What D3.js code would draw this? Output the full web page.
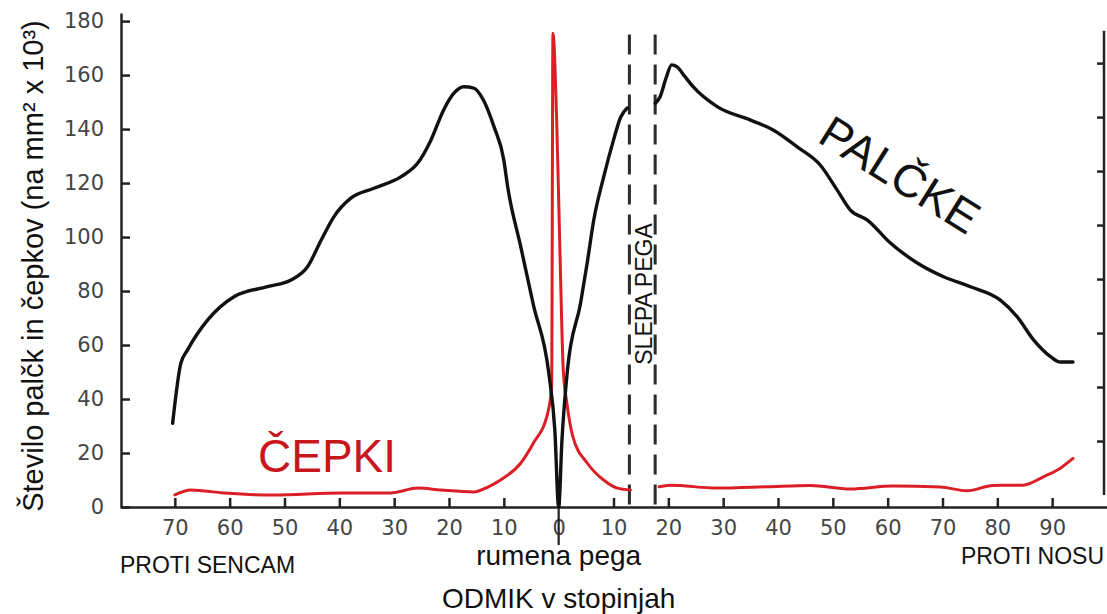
<!DOCTYPE html>
<html>
<head>
<meta charset="utf-8">
<script src="https://cdn.jsdelivr.net/npm/d3@7"></script>
<style>
  body { margin: 0; background: #fff; }
  svg { display: block; }
</style>
</head>
<body>
<div id="chart"></div>
<script>
// degrees off the fovea: temporal side negative, nasal side positive
// rods, temporal edge up to the blind spot
let rodsAX = [-70.4, -68.9, -67.7, -64.0, -59.2, -53.1, -48.8, -45.8, -43.3, -41.0, -37.9, -33.7, -28.8,
  -25.7, -23.3, -21.0, -19.1, -17.3, -15.5, -13.7, -11.8, -10.0, -9.3, -6.9, -4.6, -1.8, -0.7, 0,
  0.6, 1.6, 4.0, 5.2, 6.4, 8.2, 10.0, 11.3, 12.5];
let rodsAY = [31, 53.3, 58.1, 69.3, 77.9, 81.6, 84.1, 89, 98.9, 107.5, 114.4, 118.1, 122.3,
  127.4, 135.9, 147, 153.3, 155.7, 155.2, 150.7, 140.9, 128.5, 118.6, 96.3, 74.8, 49.6, 28.5, 0,
  24.8, 50.7, 75.6, 90.4, 106.3, 122.2, 135.9, 144.4, 147.8];
// rods, after the blind spot
let rodsBX = [17.6, 18.5, 19.6, 20.6, 21.6, 23.0, 24.6, 28.9, 35.0, 39.2, 43.5, 47.7, 50.8, 53.2,
  56.3, 60.5, 65.4, 70.2, 75.1, 80.5, 83.6, 86.6, 89.7, 91.5, 93.8];
let rodsBY = [149.5, 152, 159, 163.8, 163, 159.5, 155.5, 148.3, 143.3, 139.6, 133.4, 126.7, 117.4, 110,
  106.3, 97.8, 90.4, 85.3, 81.6, 76.7, 70.5, 61.9, 55.7, 53.7, 53.7];
// cones
let conesAX = [-70, -67.1, -61.0, -51.9, -39.7, -30.6, -25.7, -21.5, -15.5, -12.9, -10.6, -6.9, -4.6,
  -2.0, -1.28, -1.04, -0.36, 0.24, 0.84, 1.5, 2.6, 5.2, 8.2, 10.7, 13.1];
let conesAY = [4.5, 6.3, 5.2, 4.4, 5.2, 5.2, 7, 6.3, 5.6, 7.4, 10, 16.3, 23.7,
  34.8, 44.6, 175.5, 143, 94, 50.7, 38.5, 26, 16.3, 10, 7, 6.3];
let conesBX = [18.3, 20.3, 28.9, 38.0, 45.9, 53.2, 61.0, 69.6, 74.5, 79.2, 84.7, 88.4, 91.5, 93.8];
let conesBY = [7.5, 8.1, 7, 7.5, 8, 6.7, 7.8, 7.4, 6, 8, 8.1, 11.2, 14.4, 18];

let blindSpot = [12.9, 17.6];
let xTicks = [-70, -60, -50, -40, -30, -20, -10, 0, 10, 20, 30, 40, 50, 60, 70, 80, 90];
let yTicks = [0, 20, 40, 60, 80, 100, 120, 140, 160, 180];
let rightTicks = [20, 40, 60, 80, 100, 120, 140, 160];

let width = 1107, height = 614;
let sans = "'Liberation Sans', Arial, sans-serif";
let tickFont = "'DejaVu Sans', sans-serif";

let x = d3.scaleLinear().domain([-80, 100]).range([120, 1107]);
let y = d3.scaleLinear().domain([0, 183]).range([507, 13]);

let svg = d3.select("#chart").append("svg")
    .attr("width", width)
    .attr("height", height);

svg.append("rect").attr("width", width).attr("height", height).attr("fill", "#fff");

function styleAxis(g) {
  g.selectAll(".domain").attr("stroke", "#222").attr("stroke-width", 2.5);
  g.selectAll(".tick line").attr("stroke", "#222").attr("stroke-width", 2.5);
  g.selectAll(".tick text")
    .attr("fill", "#454545")
    .style("font-family", tickFont)
    .style("font-size", "21px");
}

// left axis
let yAxis = svg.append("g")
    .attr("transform", "translate(121,0)")
    .call(d3.axisLeft(y).tickValues(yTicks).tickSize(-9).tickSizeOuter(0).tickPadding(17));
styleAxis(yAxis);

// bottom axis
let xAxis = svg.append("g")
    .attr("transform", "translate(0," + y(0) + ")")
    .call(d3.axisBottom(x).tickValues(xTicks).tickFormat(d => Math.abs(d))
      .tickSize(-9).tickSizeOuter(0).tickPadding(13));
styleAxis(xAxis);

// fovea marker below the axis
svg.append("line")
    .attr("x1", x(0)).attr("x2", x(0))
    .attr("y1", y(0)).attr("y2", y(0) + 38)
    .attr("stroke", "#222").attr("stroke-width", 2.2);

// right frame, sits a bit higher in the scan
let rAxis = svg.append("g")
    .attr("transform", "translate(1104,-12)")
    .call(d3.axisLeft(y).tickValues(rightTicks).tickFormat("").tickSize(7).tickSizeOuter(0));
rAxis.select(".domain").remove();
rAxis.append("line")
    .attr("x1", 0).attr("x2", 0)
    .attr("y1", y(0)).attr("y2", y(172))
    .attr("stroke", "#222").attr("stroke-width", 2.5);
styleAxis(rAxis);

// blind spot borders
svg.selectAll(".blind")
  .data(blindSpot)
  .enter().append("line")
    .attr("class", "blind")
    .attr("x1", d => x(d)).attr("x2", d => x(d))
    .attr("y1", y(175)).attr("y2", y(0))
    .attr("stroke", "#2a2a2a")
    .attr("stroke-width", 3)
    .attr("stroke-dasharray", "20,10");

let line = d3.line()
    .x(d => x(d[0]))
    .y(d => y(d[1]))
    .curve(d3.curveMonotoneX);

let series = [
  {xs: conesAX, ys: conesAY, color: "#dc1f26", w: 3},
  {xs: conesBX, ys: conesBY, color: "#dc1f26", w: 3},
  {xs: rodsAX, ys: rodsAY, color: "#111", w: 3.4},
  {xs: rodsBX, ys: rodsBY, color: "#111", w: 3.4}
];

series.forEach(s => {
  svg.append("path")
    .datum(d3.zip(s.xs, s.ys))
    .attr("fill", "none")
    .attr("stroke", s.color)
    .attr("stroke-width", s.w)
    .attr("stroke-linejoin", "round")
    .attr("stroke-linecap", "round")
    .attr("d", line);
});

// labels
svg.append("text")
    .attr("transform", "translate(43,266) rotate(-90)")
    .attr("text-anchor", "middle")
    .style("font-family", sans)
    .style("font-size", "29px")
    .attr("fill", "#111")
    .text("Število palčk in čepkov (na mm² x 10³)");

svg.append("text")
    .attr("x", 258).attr("y", 472)
    .style("font-family", sans)
    .style("font-size", "46px")
    .attr("fill", "#c8161d")
    .text("ČEPKI");

svg.append("text")
    .attr("transform", "translate(816,141) rotate(32)")
    .style("font-family", sans)
    .style("font-size", "46px")
    .attr("fill", "#111")
    .text("PALČKE");

svg.append("text")
    .attr("transform", "translate(652,294) rotate(-90)")
    .attr("text-anchor", "middle")
    .style("font-family", sans)
    .style("font-size", "23px")
    .attr("fill", "#111")
    .text("SLEPA PEGA");

svg.append("text")
    .attr("x", 120).attr("y", 573)
    .style("font-family", sans)
    .style("font-size", "23px")
    .attr("fill", "#111")
    .text("PROTI SENCAM");

svg.append("text")
    .attr("x", 1104).attr("y", 564)
    .attr("text-anchor", "end")
    .style("font-family", sans)
    .style("font-size", "23px")
    .attr("fill", "#111")
    .text("PROTI NOSU");

svg.append("text")
    .attr("x", x(0)).attr("y", 565)
    .attr("text-anchor", "middle")
    .style("font-family", sans)
    .style("font-size", "28px")
    .attr("fill", "#111")
    .text("rumena pega");

svg.append("text")
    .attr("x", 442).attr("y", 608)
    .style("font-family", sans)
    .style("font-size", "28px")
    .attr("fill", "#111")
    .text("ODMIK v stopinjah");
</script>
</body>
</html>
